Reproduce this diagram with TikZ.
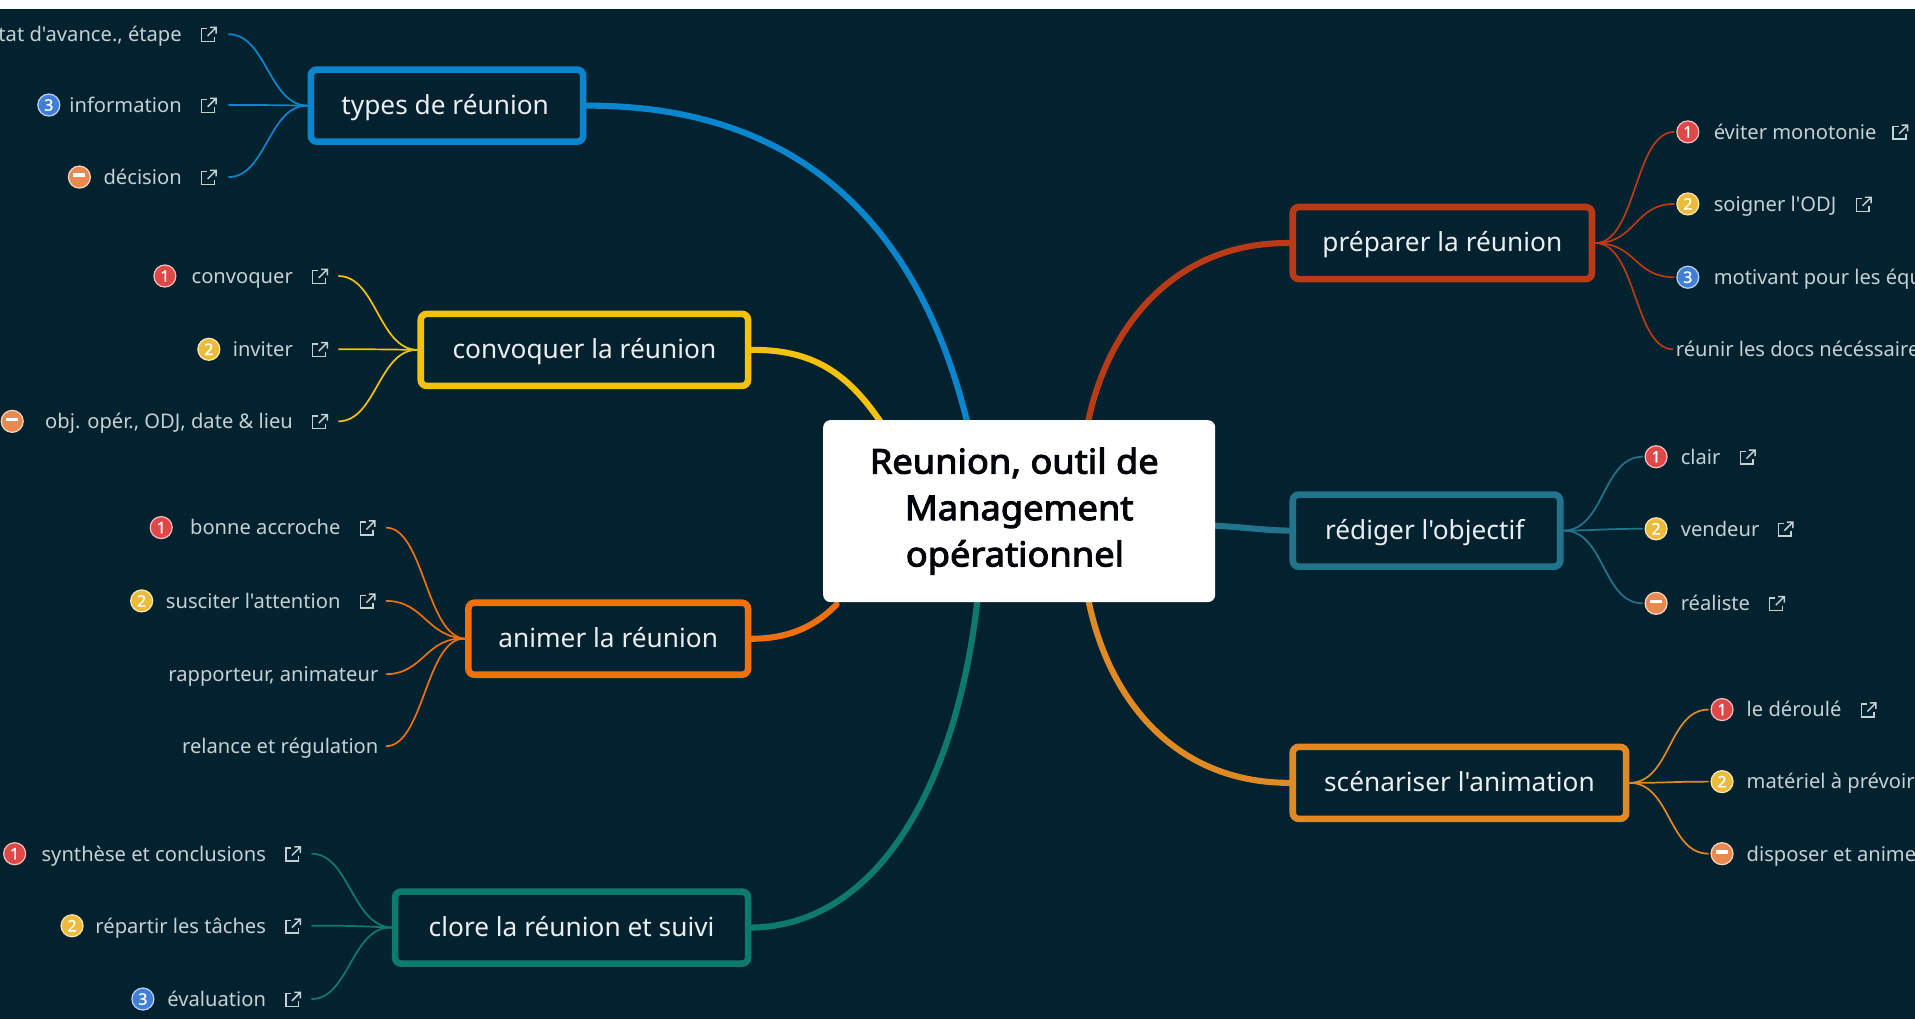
\documentclass[tikz,border=0pt]{standalone}
\usepackage{fontspec}
\newfontfamily\mapfont{Noto Sans}
\newfontfamily\boldmapfont[FakeBold=3,FakeStretch=1.06]{Noto Sans}
\newfontfamily\badgefont[FakeBold=1.2]{Noto Sans}
\definecolor{bgc}{HTML}{03222F}
\definecolor{txtc}{HTML}{C6D1D4}
\definecolor{cblue}{HTML}{0A86CF}
\definecolor{cyel}{HTML}{F4C20D}
\definecolor{corg}{HTML}{F0700F}
\definecolor{cteal}{HTML}{0D7A6D}
\definecolor{cred}{HTML}{B83A16}
\definecolor{cpet}{HTML}{22748C}
\definecolor{cscn}{HTML}{E08A25}
\definecolor{b1}{HTML}{E04848}
\definecolor{b2}{HTML}{EDBB3A}
\definecolor{b3}{HTML}{3F7FD8}
\definecolor{b4}{HTML}{E8894F}
\pgfdeclarelayer{backdrop}
\pgfdeclarelayer{lines}
\pgfsetlayers{backdrop,lines,main}
\tikzset{
  x=1pt,y=-1pt,
  topicbox/.style={draw=#1,line width=5.4pt,rounded corners=5pt,fill=bgc,text=white!92!bgc,font=\mapfont\fontsize{21.5}{26}\selectfont,anchor=center,inner sep=0pt,minimum height=59pt,text height=18pt,text depth=4pt},
  trunk/.style={draw=#1,line width=5pt,line cap=round},
  twig/.style={draw=#1,line width=1.4pt},
  leaftext/.style={text=txtc,font=\mapfont\fontsize{16.5}{19}\selectfont,inner sep=0pt},
  badge/.style={circle,fill=#1,draw=white!65!#1,line width=1pt,minimum size=18pt,inner sep=0pt,text=white,font=\badgefont\fontsize{13}{13}\selectfont},
  extlink/.style={draw=txtc,line width=1.2pt},
}
\newcommand{\extglyph}[2]{%
  \draw[extlink] (#1-1.5,#2-4.5) -- (#1-6,#2-4.5) -- (#1-6,#2+6) -- (#1+4.5,#2+6) -- (#1+4.5,#2+2);
  \draw[extlink] (#1-1,#2+1.5) -- (#1+6,#2-5.5) (#1+1,#2-5.5) -- (#1+6,#2-5.5) -- (#1+6,#2-0.5);
}
\newcommand{\minusbar}{\rule[3.2pt]{10pt}{3pt}}
\begin{document}
\begin{tikzpicture}
\useasboundingbox (0,0) rectangle (1568,834);
\begin{pgfonlayer}{backdrop}
\fill[bgc] (0,0) rectangle (1568,834);
\fill[white] (0,0) rectangle (1568,7);
\end{pgfonlayer}

\node[fill=white,rounded corners=6pt,minimum width=321pt,minimum height=149pt,inner sep=0pt,align=center,font=\boldmapfont\fontsize{28}{38}\selectfont,text=black!85!bgc] (hub) at (834.5,418.5) {Reunion, outil de\hspace*{8pt}\\Management\hspace*{8pt}\\opérationnel\hspace*{7pt}};

\coordinate (hn) at (793,350);
\coordinate (hy) at (724,350);
\coordinate (ho) at (685,495);
\coordinate (ht) at (801,485);
\coordinate (hr) at (890,350);
\coordinate (hp) at (985,430);
\coordinate (hs) at (890,485);

\node[topicbox=cblue,minimum width=223pt] (t1) at (366,86.5) {types de réunion\hspace*{3pt}};
\node[topicbox=cyel,minimum width=268pt] (t2) at (478.5,286.5) {convoquer la réunion};
\node[topicbox=corg,minimum width=229pt] (t3) at (498,523) {animer la réunion};
\node[topicbox=cteal,minimum width=289pt] (t4) at (468,759.5) {clore la réunion et suivi};
\node[topicbox=cred,minimum width=245pt] (t5) at (1181,199) {préparer la réunion};
\node[topicbox=cpet,minimum width=219pt] (t6) at (1168,434.5) {rédiger l'objectif\hspace*{3pt}};
\node[topicbox=cscn,minimum width=273pt] (t7) at (1195,641) {scénariser l'animation};

\begin{pgfonlayer}{lines}
\draw[trunk=cblue] (t1.east) .. controls (660,86) and (755,190) .. (hn);
\draw[trunk=cyel] (t2.east) .. controls (665,286) and (695,305) .. (hy);
\draw[trunk=corg] (t3.east) .. controls (650,523) and (670,510) .. (ho);
\draw[trunk=cteal] (t4.east) .. controls (720,758) and (785,640) .. (ht);
\draw[trunk=cred] (t5.west) .. controls (960,198) and (905,270) .. (hr);
\draw[trunk=cpet] (t6.west) .. controls (1030,434) and (1015,431) .. (hp);
\draw[trunk=cscn] (t7.west) .. controls (960,641) and (905,570) .. (hs);
\end{pgfonlayer}

\foreach \nm/\yy/\tx in {a/28/{état d'avance., étape},b/86/{information},c/145/{décision}}{
  \node[leaftext,anchor=base east] (t1\nm) at (149,\yy+6) {\tx};
  \extglyph{171}{\yy}
  \coordinate (e1\nm) at (187,\yy);
  \draw[twig=cblue] (t1.west) .. controls (220,86) and (218,\yy) .. (e1\nm);
}
\node[badge=b3] (g1b) at (40,86) {3};
\node[badge=b4] (g1c) at (65,145) {\minusbar};

\foreach \nm/\yy/\tx/\bd/\bx/\bc in {
 a/226/{convoquer}/1/135/b1,
 b/286/{inviter}/2/171/b2,
 c/345/{obj. opér., ODJ, date \& lieu}/{\minusbar}/10/b4}{
  \node[leaftext,anchor=base east] (t2\nm) at (240,\yy+6) {\tx};
  \extglyph{262}{\yy}
  \coordinate (e2\nm) at (277,\yy);
  \draw[twig=cyel] (t2.west) .. controls (310,286) and (308,\yy) .. (e2\nm);
  \node[badge=\bc] (g2\nm) at (\bx,\yy) {\bd};
}
\foreach \nm/\yy/\tx/\bd/\bx/\bc in {
 a/432/{bonne accroche}/1/132/b1,
 b/492/{susciter l'attention}/2/116/b2}{
  \node[leaftext,anchor=base east] (t3\nm) at (279,\yy+6) {\tx};
  \extglyph{301}{\yy}
  \coordinate (e3\nm) at (316,\yy);
  \draw[twig=corg] (t3.west) .. controls (349,521) and (347,\yy) .. (e3\nm);
  \node[badge=\bc] (g3\nm) at (\bx,\yy) {\bd};
}
\foreach \nm/\yy/\tx in {
 c/552/{rapporteur, animateur},
 d/611/{relance et régulation}}{
  \node[leaftext,anchor=base east] (t3\nm) at (310,\yy+6) {\tx};
  \coordinate (e3\nm) at (316,\yy);
  \draw[twig=corg] (t3.west) .. controls (349,521) and (347,\yy) .. (e3\nm);
}
\foreach \nm/\yy/\tx/\bd/\bx/\bc in {
 a/699/{synthèse et conclusions}/1/12/b1,
 b/758/{répartir les tâches}/2/59/b2,
 c/818/{évaluation}/3/117/b3}{
  \node[leaftext,anchor=base east] (t4\nm) at (218,\yy+6) {\tx};
  \extglyph{240}{\yy}
  \coordinate (e4\nm) at (255,\yy);
  \draw[twig=cteal] (t4.west) .. controls (288,758) and (286,\yy) .. (e4\nm);
  \node[badge=\bc] (g4\nm) at (\bx,\yy) {\bd};
}
\foreach \nm/\yy/\tx/\bd/\bc in {
 a/108/{éviter monotonie}/1/b1,
 b/167/{soigner l'ODJ}/2/b2,
 c/227/{motivant pour les équipes}/3/b3}{
  \node[leaftext,anchor=base west] (t5\nm) at (1403,\yy+6) {\tx};
  \coordinate (e5\nm) at (1371,\yy);
  \draw[twig=cred] (t5.east) .. controls (1340,199) and (1338,\yy) .. (e5\nm);
  \node[badge=\bc] (g5\nm) at (1382,\yy) {\bd};
}
\extglyph{1556}{108}
\extglyph{1526}{167}
\node[leaftext,anchor=base west] (t5d) at (1372,292) {réunir les docs nécéssaires};
\coordinate (e5d) at (1370,286);
\draw[twig=cred] (t5.east) .. controls (1340,199) and (1338,286) .. (e5d);

\foreach \nm/\yy/\tx/\bd/\bc/\ix in {
 a/374/{clair}/1/b1/1431,
 b/433/{vendeur}/2/b2/1462,
 c/494/{réaliste}/{\minusbar}/b4/1455}{
  \node[leaftext,anchor=base west] (t6\nm) at (1376,\yy+6) {\tx};
  \extglyph{\ix}{\yy}
  \coordinate (e6\nm) at (1345,\yy);
  \draw[twig=cpet] (t6.east) .. controls (1314,434) and (1312,\yy) .. (e6\nm);
  \node[badge=\bc] (g6\nm) at (1356,\yy) {\bd};
}
\foreach \nm/\yy/\tx/\bd/\bc in {
 a/581/{le déroulé}/1/b1,
 b/640/{matériel à prévoir}/2/b2,
 c/699/{disposer et animer}/{\minusbar}/b4}{
  \node[leaftext,anchor=base west] (t7\nm) at (1430,\yy+6) {\tx};
  \coordinate (e7\nm) at (1399,\yy);
  \draw[twig=cscn] (t7.east) .. controls (1368,641) and (1366,\yy) .. (e7\nm);
  \node[badge=\bc] (g7\nm) at (1410,\yy) {\bd};
}
\extglyph{1530}{581}
\end{tikzpicture}
\end{document}
